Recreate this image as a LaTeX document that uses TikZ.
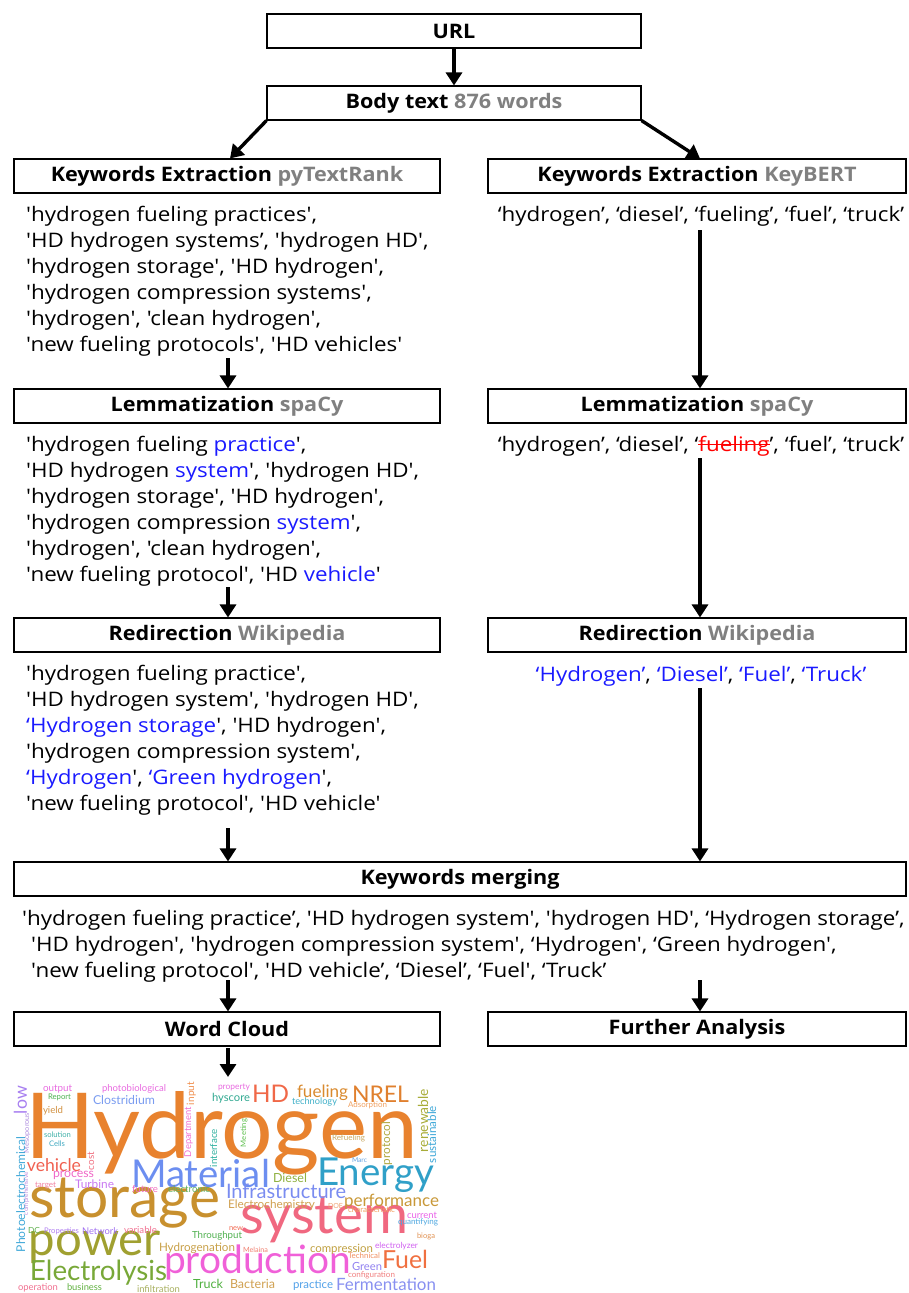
\documentclass[tikz,border=0pt]{standalone}
\usepackage{fontspec}
\setmainfont{Open Sans}[Ligatures=TeXOff, FakeStretch=1.12]
\newfontfamily\boxfont{Open Sans}[Ligatures=TeXOff, FakeStretch=1.08]
\newfontfamily\lato{Lato}
\usetikzlibrary{arrows.meta}
\definecolor{gr}{HTML}{808080}
\definecolor{bl}{HTML}{1A1AFF}
\newcommand\mtext{\fontsize{20}{26}\selectfont}
\newcommand\fs{\rule{0pt}{16pt}}
\newsavebox\strikebox
\newcommand\strikeout[1]{\sbox\strikebox{#1}\rlap{\usebox\strikebox}\rule[0.3em]{\wd\strikebox}{0.07em}}
\newcommand\wch[6]{\definecolor{tmpc}{HTML}{#4}\node[wc,text=tmpc] (#1) at (#2,#3) {\resizebox{#5pt}{!}{#6}};}
\newcommand\wcv[6]{\definecolor{tmpc}{HTML}{#4}\node[wc,text=tmpc,rotate=90] (#1) at (#2,#3) {\resizebox{#5pt}{!}{#6}};}
\begin{document}
\begin{tikzpicture}[x=1pt,y=-1pt,
  box/.style={draw, line width=1.1pt, minimum height=34pt, inner sep=0pt, font=\boxfont\bfseries\fontsize{20}{24}\selectfont},
  lst/.style={inner sep=0pt, align=left, font=\mtext, anchor=north west},
  one/.style={inner sep=0pt, font=\mtext, anchor=base},
  arr/.style={line width=3.4pt, -{Triangle[length=13pt,width=16pt]}},
  wc/.style={inner sep=0pt, outer sep=0pt, anchor=base west, font=\lato}]
\useasboundingbox (0,0) rectangle (908,1293);
% boxes
\node[box, minimum width=374pt] (url) at (454,31) {URL};
\node[box, minimum width=374pt] (body) at (454,103) {Body text \textcolor{gr}{876 words}};
\node[box, minimum width=426pt] (kel) at (227,176) {Keywords Extraction \textcolor{gr}{pyTextRank}};
\node[box, minimum width=418pt] (ker) at (697,176) {Keywords Extraction \textcolor{gr}{KeyBERT}};
\node[box, minimum width=426pt] (leml) at (227,406) {Lemmatization \textcolor{gr}{spaCy}};
\node[box, minimum width=418pt] (lemr) at (697,406) {Lemmatization \textcolor{gr}{spaCy}};
\node[box, minimum width=426pt] (redl) at (227,635) {Redirection \textcolor{gr}{Wikipedia}};
\node[box, minimum width=418pt] (redr) at (697,635) {Redirection \textcolor{gr}{Wikipedia}};
\node[box, minimum width=892pt] (merge) at (460,879) {Keywords merging};
\node[box, minimum width=426pt] (wcb) at (227,1029) {Word Cloud};
\node[box, minimum width=418pt] (fa) at (697,1029) {Further Analysis};
% lists
\node[lst] (kellist) at (26,205) {\fs'hydrogen fueling practices',\\
'HD hydrogen systems’, 'hydrogen HD',\\
'hydrogen storage', 'HD hydrogen',\\
'hydrogen compression systems',\\
'hydrogen', 'clean hydrogen',\\
'new fueling protocols', 'HD vehicles'};
\node[one] (kerlist) at (701,221) {‘hydrogen’, ‘diesel’, ‘fueling’, ‘fuel’, ‘truck’};
\node[lst] (lemllist) at (26,435) {\fs'hydrogen fueling \textcolor{bl}{practice}',\\
'HD hydrogen \textcolor{bl}{system}', 'hydrogen HD',\\
'hydrogen storage', 'HD hydrogen',\\
'hydrogen compression \textcolor{bl}{system}',\\
'hydrogen', 'clean hydrogen',\\
'new fueling protocol', 'HD \textcolor{bl}{vehicle}'};
\node[one] (lemrlist) at (701,451) {‘hydrogen’, ‘diesel’, ‘{\color{red}\strikeout{fueling}}’, ‘fuel’, ‘truck’};
\node[lst] (redllist) at (26,664) {\fs'hydrogen fueling practice',\\
'HD hydrogen system', 'hydrogen HD',\\
\textcolor{bl}{‘Hydrogen storage}', 'HD hydrogen',\\
'hydrogen compression system',\\
\textcolor{bl}{‘Hydrogen}', \textcolor{bl}{‘Green hydrogen}',\\
'new fueling protocol', 'HD vehicle'};
\node[one] (redrlist) at (701,681) {\color{bl}‘Hydrogen’\textcolor{black}{,} ‘Diesel’\textcolor{black}{,} ‘Fuel’\textcolor{black}{,} ‘Truck’};
\node[lst] (mergelist) at (22,909) {\fs'hydrogen fueling practice’, 'HD hydrogen system', 'hydrogen HD', ‘Hydrogen storage’,\\
\hspace*{9pt}'HD hydrogen', 'hydrogen compression system', ‘Hydrogen', ‘Green hydrogen',\\
\hspace*{9pt}'new fueling protocol', 'HD vehicle’, ‘Diesel’, ‘Fuel', ‘Truck’};
% arrow start coordinates
\coordinate (s1) at (228,358);
\coordinate (s2) at (700,230);
\coordinate (s3) at (228,587);
\coordinate (s4) at (700,458);
\coordinate (s5) at (228,828);
\coordinate (s6) at (700,688);
\coordinate (s7) at (228,980);
\coordinate (s8) at (700,980);
\coordinate (s9) at (228,1048);
\coordinate (cloudtop) at (228,1077);
% arrows
\draw[arr] (url) -- (body);
\draw[arr] (body.south west) -- ([xshift=3pt]kel.north);
\draw[arr] (body.south east) -- ([xshift=3pt]ker.north);
\draw[arr] (s1) -- (s1 |- leml.north);
\draw[arr] (s2) -- (s2 |- lemr.north);
\draw[arr] (s3) -- (s3 |- redl.north);
\draw[arr] (s4) -- (s4 |- redr.north);
\draw[arr] (s5) -- (s5 |- merge.north);
\draw[arr] (s6) -- (s6 |- merge.north);
\draw[arr] (s7) -- (s7 |- wcb.north);
\draw[arr] (s8) -- (s8 |- fa.north);
\draw[arr] (s9) -- (cloudtop);
% word cloud
\wch{w1}{25}{1158}{E8822E}{393}{Hydrogen}
\wch{w2}{131}{1187}{6C8EF0}{139}{Material}
\wch{w3}{317}{1185}{30A0C8}{117}{Energy}
\wch{w4}{29}{1217}{C8902E}{191}{storage}
\wch{w5}{240}{1233}{F06880}{168}{system}
\wch{w6}{29}{1255}{A0A030}{132}{power}
\wch{w7}{164}{1273}{F060D8}{187}{production}
\wch{w8}{30}{1280}{78A838}{137}{Electrolysis}
\wch{w9}{226}{1198}{7A8CF0}{120}{Infrastructure}
\wch{w10}{344}{1206}{C89838}{95}{performance}
\wch{w11}{336}{1290}{8890F0}{100}{Fermentation}
\wch{w12}{382}{1268}{F07040}{46}{Fuel}
\wch{w13}{252}{1102}{F06848}{37}{HD}
\wch{w14}{352}{1102}{E0802E}{57}{NREL}
\wch{w15}{297}{1097}{D98A2E}{51}{fueling}
\wch{w16}{27}{1171}{F06050}{54}{vehicle}
\wch{w17}{43}{1091}{E86BE0}{29}{output}
\wch{w18}{102}{1091}{E86BE0}{64}{photobiological}
\wch{w19}{48}{1099}{4CB050}{23}{Report}
\wch{w20}{43}{1113}{D09040}{20}{yield}
\wch{w21}{93}{1104}{7A9CF0}{62}{Clostridium}
\wch{w22}{44}{1137}{40B0A8}{27}{solution}
\wch{w23}{49}{1146}{40A8C0}{16}{Cells}
\wch{w24}{218}{1089}{E86BE0}{32}{property}
\wch{w25}{212}{1101}{30A890}{38}{hyscore}
\wch{w26}{292}{1104}{40B0C8}{45}{technology}
\wch{w27}{348}{1107}{F0A060}{39}{Adsorption}
\wch{w28}{332}{1140}{C8A860}{33}{Refueling}
\wch{w29}{352}{1162}{60A0E0}{15}{Marc}
\wch{w30}{53}{1177}{F068C8}{41}{process}
\wch{w31}{35}{1187}{F080A0}{21}{target}
\wch{w32}{75}{1188}{C878F0}{39}{Turbine}
\wch{w33}{273}{1182}{90B040}{34}{Diesel}
\wch{w34}{132}{1192}{F070C0}{26}{future}
\wch{w35}{168}{1192}{60B060}{42}{electronic}
\wch{w36}{228}{1208}{D0A050}{87}{Electrochemistry}
\wch{w37}{328}{1208}{F0A070}{15}{DOE}
\wch{w38}{348}{1212}{F0A060}{47}{characteristic}
\wch{w39}{407}{1218}{E860E8}{30}{current}
\wch{w40}{398}{1224}{50A8E0}{40}{quantifying}
\wch{w41}{229}{1230}{F06850}{14}{new}
\wch{w42}{28}{1233}{60B050}{12}{DC}
\wch{w43}{44}{1233}{B080F0}{35}{Properties}
\wch{w44}{82}{1234}{A070F0}{36}{Network}
\wch{w45}{124}{1233}{F07090}{33}{variable}
\wch{w46}{192}{1238}{50B050}{50}{Throughput}
\wch{w47}{417}{1238}{E09050}{18}{bioga}
\wch{w48}{159}{1251}{C8A048}{76}{Hydrogenation}
\wch{w49}{243}{1252}{F08070}{25}{Melaina}
\wch{w50}{310}{1252}{C0A040}{63}{compression}
\wch{w51}{375}{1248}{D060F0}{43}{electrolyzer}
\wch{w52}{348}{1258}{F09060}{32}{Technical}
\wch{w53}{352}{1270}{9080F0}{30}{Green}
\wch{w54}{348}{1277}{F08080}{47}{configuration}
\wch{w55}{193}{1288}{50B040}{30}{Truck}
\wch{w56}{230}{1288}{D0A050}{45}{Bacteria}
\wch{w57}{293}{1288}{50A0E8}{40}{practice}
\wch{w58}{18}{1290}{F07090}{40}{operation}
\wch{w59}{67}{1290}{60B040}{35}{business}
\wch{w60}{137}{1292}{A8B060}{43}{infiltration}
\wcv{w61}{27}{1114}{A880F0}{28}{low}
\wcv{w62}{29}{1153}{B090E0}{40}{Mesoporous}
\wcv{w63}{25}{1252}{40A8D8}{115}{Photoelectrochemical}
\wcv{w64}{28}{1215}{C090E0}{43}{comprehensive}
\wcv{w65}{194}{1105}{F09050}{23}{input}
\wcv{w66}{191}{1157}{F070D0}{50}{Department}
\wcv{w67}{217}{1167}{30B0A0}{38}{interface}
\wcv{w68}{246}{1147}{60C050}{28}{Meeting}
\wcv{w69}{94}{1170}{F07080}{18}{cost}
\wcv{w70}{390}{1165}{B0A840}{43}{protocol}
\wcv{w71}{428}{1152}{A8AC38}{63}{renewable}
\wcv{w72}{436}{1163}{40A8D8}{57}{sustainable}
\end{tikzpicture}
\end{document}
